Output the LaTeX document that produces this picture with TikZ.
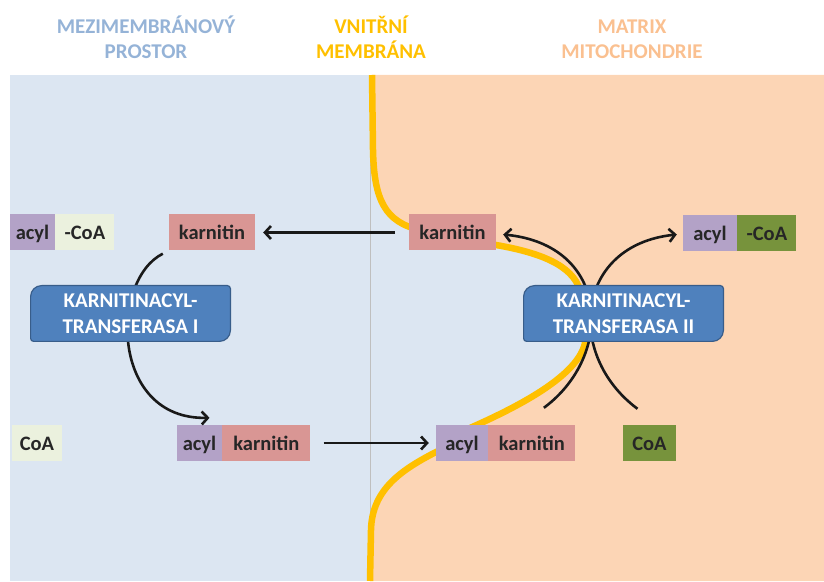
\documentclass[tikz,border=0pt]{standalone}
\usepackage{fontspec}
\setmainfont{Carlito}
\usetikzlibrary{arrows.meta,positioning}

\definecolor{bgblue}{HTML}{DCE6F2}
\definecolor{bgpeach}{HTML}{FCD5B5}
\definecolor{membr}{HTML}{FFC000}
\definecolor{acylc}{HTML}{B3A2C7}
\definecolor{karnc}{HTML}{D99694}
\definecolor{creamc}{HTML}{EBF1DE}
\definecolor{coagreen}{HTML}{77933C}
\definecolor{enzfill}{HTML}{4F81BD}
\definecolor{enzedge}{HTML}{385D8A}
\definecolor{hdrblue}{HTML}{95B3D7}
\definecolor{hdrpeach}{HTML}{FAC090}

\begin{document}
\begin{tikzpicture}[
    x=1pt, y=1pt,
    font=\bfseries\fontsize{20.5}{24}\selectfont,
    mol/.style={minimum height=36pt, inner sep=0pt, text height=19pt, text depth=4pt, text=black!85},
    hdr/.style={align=center, font=\bfseries\fontsize{21}{25}\selectfont},
    enzbox/.style={minimum width=201pt, minimum height=57pt, inner sep=0pt, align=center, text=white,
        font=\bfseries\fontsize{21}{26.5}\selectfont,
        path picture={\filldraw[fill=enzfill, draw=enzedge, line width=1.2pt]
            ([xshift=11.6pt,yshift=-0.6pt]path picture bounding box.north west)
            -- ([xshift=-3.6pt,yshift=-0.6pt]path picture bounding box.north east) arc[start angle=90, end angle=0, radius=3pt]
            -- ([xshift=-0.6pt,yshift=11.6pt]path picture bounding box.south east) arc[start angle=0, end angle=-90, radius=11pt]
            -- ([xshift=3.6pt,yshift=0.6pt]path picture bounding box.south west) arc[start angle=270, end angle=180, radius=3pt]
            -- ([xshift=0.6pt,yshift=-11.6pt]path picture bounding box.north west) arc[start angle=180, end angle=90, radius=11pt]
            -- cycle;}},
    arr/.style={-{Straight Barb[length=6pt,width=13pt]}, line width=2.6pt, draw=black!90},
    membrane/.style={draw=membr, line width=6.5pt}
]
    \useasboundingbox (0,0) rectangle (824,581);

    % Background: intermembrane space and matrix
    \fill[bgblue] (10,0) rectangle (824,506);
    \fill[bgpeach] (372,506) -- (373,431) .. controls (374,381) and (385,359) .. (420,351)
        -- (490,337) .. controls (540,329) and (572,316) .. (580,291) -- (585,238)
        .. controls (578,206) and (522,176) .. (470,153) -- (440,131)
        .. controls (400,111) and (372,91) .. (371,51) -- (370,0) -- (824,0) -- (824,506) -- cycle;
    \draw[black!25, line width=0.8pt] (370,0) -- (370,506);

    % Inner membrane
    \draw[membrane] (372,506) -- (373,431) .. controls (374,381) and (385,359) .. (420,351)
        -- (490,337) .. controls (540,329) and (572,316) .. (580,291) -- (585,238)
        .. controls (578,206) and (522,176) .. (470,153) -- (440,131)
        .. controls (400,111) and (372,91) .. (371,51) -- (370,0);

    % Headings
    \node[hdr, text=hdrblue] (hdrspace) at (146,544) {MEZIMEMBRÁNOVÝ\\PROSTOR};
    \node[hdr, text=membr] (hdrmemb) at (371,544) {VNITŘNÍ\\MEMBRÁNA};
    \node[hdr, text=hdrpeach] (hdrmatrix) at (632,542) {MATRIX\\MITOCHONDRIE};

    % Molecules
    \node[mol, fill=acylc, minimum width=45pt] (acylL) at (32.5,348.5) {acyl};
    \node[mol, fill=creamc, minimum width=59pt, right=0pt of acylL] (coaL) {-CoA};
    \node[mol, fill=karnc, minimum width=86pt] (kartL) at (212,348.5) {karnitin};
    \node[mol, fill=karnc, minimum width=87pt] (kartR) at (452.5,348.5) {karnitin};
    \node[mol, fill=acylc, minimum width=54pt] (acylR) at (710,347.5) {acyl};
    \node[mol, fill=coagreen, minimum width=59pt, right=0pt of acylR] (coaR) {-CoA};

    \node[mol, fill=creamc, minimum width=50pt] (coaBL) at (37,138) {CoA};
    \node[mol, fill=acylc, minimum width=45pt] (acylA) at (199.5,138) {acyl};
    \node[mol, fill=karnc, minimum width=88pt, right=0pt of acylA] (karA) {karnitin};
    \node[mol, fill=acylc, minimum width=52pt] (acylB) at (462,138) {acyl};
    \node[mol, fill=karnc, minimum width=87pt, right=0pt of acylB] (karB) {karnitin};
    \node[mol, fill=coagreen, minimum width=53pt] (coaBR) at (649.5,138) {CoA};

    % Transport and reactions
    \draw[arr] ([xshift=-14pt]kartR.west) -- ([xshift=8pt]kartL.east);
    \draw[arr] ([xshift=-6pt,yshift=-3pt]kartL.south west) .. controls (110,301) and (110,161) .. ([xshift=10pt,yshift=7pt]acylA.north);
    \draw[arr] ([xshift=13pt]karA.east) -- ([xshift=-7pt]acylB.west);
    \draw[arr] ([shift={(12,17)}]karB.north) .. controls (615,226) and (610,336) .. ([xshift=7pt,yshift=-2pt]kartR.east);
    \draw[arr] ([shift={(-12,16)}]coaBR.north) .. controls (565,226) and (575,336) .. ([xshift=-6pt,yshift=-1pt]acylR.west);

    % Enzymes
    \node[enzbox] (enzI) at (130.5,267.5) {KARNITINACYL-\\TRANSFERASA I};
    \node[enzbox] (enzII) at (623.5,267.5) {KARNITINACYL-\\TRANSFERASA II};
\end{tikzpicture}
\end{document}
